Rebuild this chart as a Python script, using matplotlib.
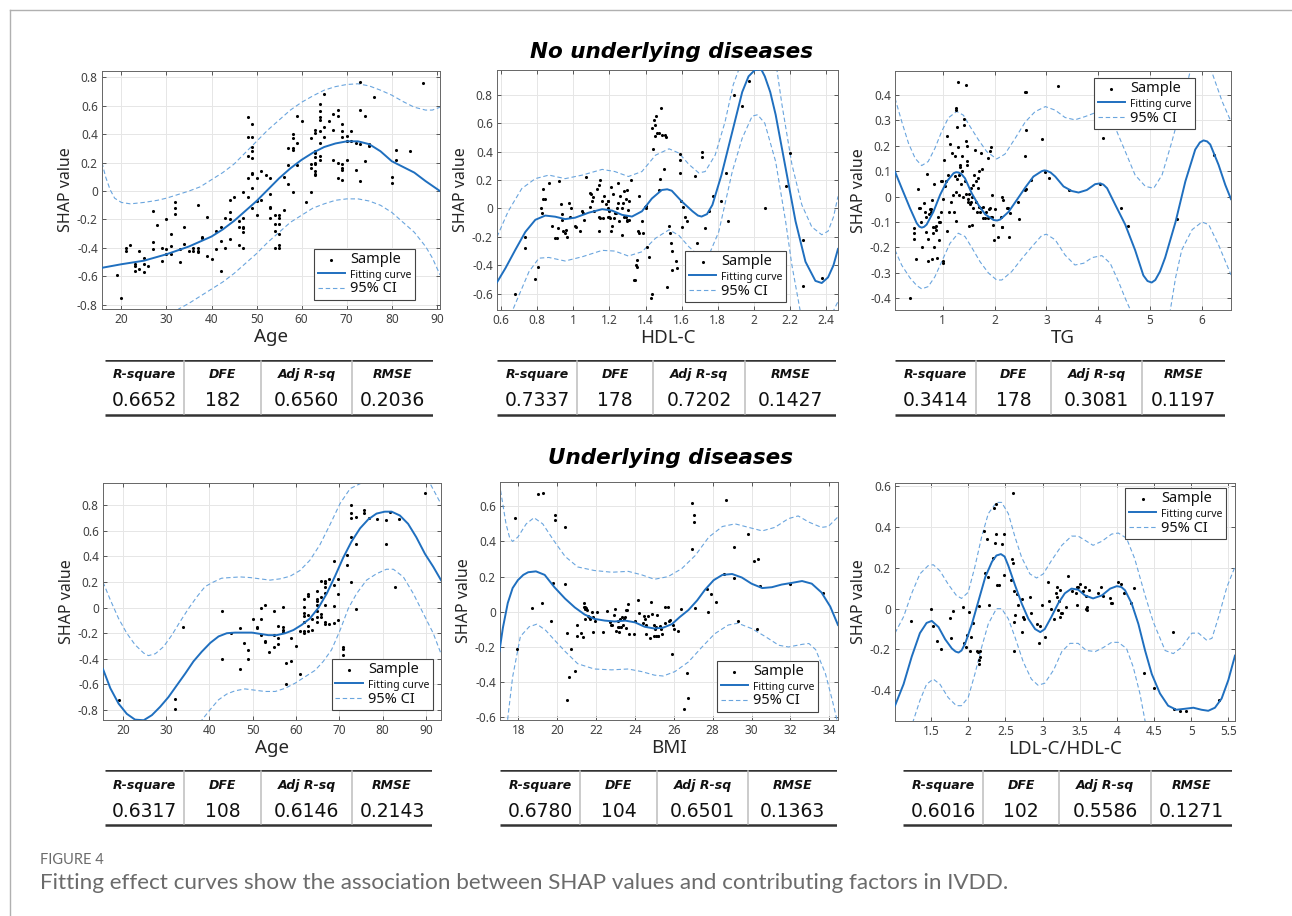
import matplotlib
matplotlib.use('Agg')
import matplotlib.pyplot as plt
from matplotlib.lines import Line2D
from matplotlib.ticker import FuncFormatter

plt.rcParams['axes.unicode_minus'] = False
plt.rcParams['font.family'] = 'DejaVu Sans'

# ---------------- data ----------------
# No underlying diseases: Age
age1_x = [19, 20, 21, 21, 22, 23, 23, 23, 24, 24, 25, 25, 25, 26, 27, 27, 27, 28, 29, 29,
          30, 30, 30, 31, 31, 31, 32, 32, 32, 33, 33, 34, 34, 35, 36, 36, 37, 37, 37, 37,
          38, 38, 39, 39, 40, 41, 41, 42, 42, 42, 43, 43, 44, 44, 44, 44, 45, 46, 46, 46,
          47, 47, 47, 47, 47, 47, 48, 48, 48, 48, 48, 49, 49, 49, 49, 49, 49, 49, 49, 49,
          50, 50, 50, 51, 51, 52, 53, 53, 53, 53, 53, 54, 54, 54, 54, 55, 55, 55, 55, 55, 55,
          56, 56, 57, 57, 57, 58, 58, 58, 58, 58, 59, 59, 59, 60, 61, 62, 62, 62, 62,
          63, 63, 63, 63, 63, 63, 63, 63, 63, 63, 64, 64, 64, 64, 64, 64, 64, 64,
          65, 65, 65, 66, 67, 67, 67, 68, 68, 68, 68, 69, 69, 69, 69, 69, 69, 69,
          70, 70, 70, 71, 71, 72, 72, 73, 73, 73, 73, 74, 74, 75, 75, 76, 80, 80, 81, 81, 84, 87]
age1_y = [-0.59, -0.75, -0.40, -0.42, -0.38, -0.51, -0.53, -0.56, -0.42, -0.55, -0.47, -0.51, -0.57,
          -0.53, -0.14, -0.36, -0.41, -0.24, -0.40, -0.49,
          -0.20, -0.41, -0.44, -0.30, -0.39, -0.44, -0.08, -0.12, -0.16, -0.41, -0.50, -0.25, -0.37,
          -0.42, -0.40, -0.42, -0.10, -0.40, -0.42, -0.43,
          -0.33, -0.32, -0.18, -0.46, -0.48, -0.28, -0.41, -0.25, -0.35, -0.56, -0.19, -0.40,
          -0.06, -0.15, -0.20, -0.34, -0.04, -0.21, -0.25, -0.38,
          -0.01, -0.19, -0.25, -0.26, -0.29, -0.40, 0.52, 0.38, 0.25, 0.09, -0.04,
          0.47, 0.38, 0.31, 0.28, 0.23, 0.13, 0.12, 0.02, -0.12,
          0.09, -0.07, -0.17, 0.14, -0.06, 0.11, 0.09, -0.02, -0.11, -0.12, -0.19,
          -0.17, -0.23, -0.28, -0.40, -0.17, -0.19, -0.23, -0.30, -0.38, -0.40,
          0.10, -0.13, 0.30, 0.18, 0.05, 0.40, 0.37, 0.30, 0.29, -0.01, 0.53, 0.34, 0.18,
          0.49, -0.08, 0.37, 0.19, 0.16, -0.01,
          0.43, 0.41, 0.28, 0.27, 0.24, 0.20, 0.19, 0.14, 0.12, 0.11,
          0.61, 0.56, 0.52, 0.50, 0.42, 0.34, 0.25, 0.22,
          0.68, 0.45, 0.38, 0.49, 0.54, 0.43, 0.22, 0.57, 0.53, 0.20, 0.09,
          0.47, 0.42, 0.38, 0.19, 0.16, 0.15, 0.08,
          0.39, 0.35, 0.22, 0.42, 0.35, 0.34, 0.15, 0.77, 0.57, 0.33, 0.07, 0.53, 0.21,
          0.33, 0.32, 0.66, 0.10, 0.06, 0.29, 0.22, 0.28, 0.76]
age1_fit = [(15.7, -0.54), (20, -0.515), (25, -0.49), (30, -0.445), (35, -0.39), (40, -0.32),
            (42.5, -0.27), (45, -0.21), (47.5, -0.14), (50, -0.07), (52.5, 0.01), (55, 0.09),
            (57.5, 0.16), (60, 0.22), (62.5, 0.27), (65, 0.31), (67.5, 0.335), (70, 0.35),
            (72.5, 0.35), (75, 0.33), (77.5, 0.28), (80, 0.21), (82.5, 0.17), (85, 0.13),
            (87.5, 0.07), (90.7, 0.0)]
age1_up = [(15.7, 0.20), (16.5, 0.10), (17.5, 0.01), (18.5, -0.05), (20, -0.08), (22, -0.09),
           (25, -0.08), (28, -0.065), (30, -0.05), (32.5, -0.025), (35, 0.0), (37.5, 0.03),
           (40, 0.08), (42.5, 0.13), (45, 0.19), (47.5, 0.27), (50, 0.35), (52.5, 0.43),
           (55, 0.50), (57.5, 0.57), (60, 0.625), (62.5, 0.67), (65, 0.71), (67.5, 0.735),
           (70, 0.75), (72.5, 0.755), (75, 0.74), (77.5, 0.71), (80, 0.675), (82.5, 0.63),
           (85, 0.59), (87.5, 0.57), (89, 0.57), (90.7, 0.59)]
age1_lo = [(31.5, -0.88), (32.7, -0.83), (35, -0.79), (37.5, -0.74), (40, -0.69), (42.5, -0.64),
           (45, -0.58), (47.5, -0.51), (50, -0.44), (52.5, -0.36), (55, -0.29), (57.5, -0.22),
           (60, -0.17), (62.5, -0.12), (65, -0.09), (67.5, -0.065), (70, -0.055), (72.5, -0.055),
           (75, -0.07), (77.5, -0.10), (80, -0.15), (82.5, -0.22), (85, -0.29), (87.5, -0.39),
           (89, -0.47), (90.7, -0.59)]

# No underlying diseases: HDL-C
hdl_pts = [(0.68, -0.60), (0.735, -0.20), (0.735, -0.28), (0.79, -0.50), (0.805, -0.41), (0.82, 0.0),
           (0.825, -0.03), (0.83, 0.07), (0.835, 0.14), (0.845, 0.07), (0.865, 0.18), (0.885, -0.12),
           (0.9, -0.21), (0.91, -0.21), (0.915, -0.14), (0.92, 0.19), (0.93, 0.03), (0.94, -0.04),
           (0.94, -0.08), (0.945, -0.16), (0.955, -0.17), (0.96, -0.15), (0.965, -0.20), (0.975, 0.04),
           (0.98, -0.06), (0.985, 0.0), (1.01, -0.12), (1.015, -0.13), (1.04, -0.16), (1.05, -0.02),
           (1.055, -0.03), (1.06, -0.08), (1.07, 0.22), (1.09, 0.01), (1.095, 0.11), (1.1, 0.10),
           (1.105, 0.05), (1.11, 0.08), (1.115, -0.02), (1.13, 0.135), (1.14, 0.165), (1.145, -0.16),
           (1.145, -0.06), (1.148, -0.065), (1.15, 0.20), (1.16, 0.05), (1.165, -0.07), (1.17, 0.09),
           (1.18, 0.03), (1.19, -0.06), (1.19, 0.05), (1.195, 0.05), (1.195, 0.0), (1.2, -0.02),
           (1.2, -0.06), (1.205, -0.07), (1.21, 0.15), (1.21, -0.16), (1.215, -0.12), (1.22, 0.10),
           (1.225, -0.07), (1.23, -0.03), (1.235, -0.03), (1.24, 0.0), (1.245, 0.04), (1.25, 0.18),
           (1.255, -0.09), (1.26, 0.09), (1.27, -0.19), (1.27, 0.0), (1.275, 0.04), (1.28, -0.06),
           (1.28, 0.12), (1.29, -0.06), (1.29, 0.07), (1.295, -0.08), (1.3, 0.13), (1.3, -0.09),
           (1.305, -0.01), (1.31, 0.05), (1.31, -0.08), (1.32, 0.20), (1.335, -0.505), (1.34, -0.505),
           (1.345, -0.40), (1.35, -0.41), (1.355, -0.36), (1.36, -0.16), (1.365, -0.17), (1.365, 0.09),
           (1.38, -0.09), (1.385, -0.175), (1.395, 0.01), (1.4, 0.0), (1.405, 0.015), (1.41, -0.27),
           (1.42, -0.34), (1.43, -0.63), (1.435, -0.60), (1.435, 0.565), (1.44, 0.42), (1.445, 0.62),
           (1.45, 0.51), (1.455, 0.59), (1.46, 0.65), (1.465, 0.53), (1.475, 0.53), (1.475, 0.13),
           (1.478, 0.21), (1.485, 0.705), (1.49, 0.52), (1.5, 0.28), (1.51, 0.52), (1.515, 0.50),
           (1.52, -0.55), (1.53, -0.12), (1.535, -0.17), (1.54, -0.24), (1.545, -0.30), (1.548, -0.43),
           (1.57, -0.37), (1.575, -0.42), (1.59, 0.38), (1.59, 0.34), (1.59, 0.25), (1.595, 0.05),
           (1.6, -0.13), (1.61, 0.01), (1.62, -0.06), (1.63, -0.09), (1.675, 0.23), (1.685, -0.24),
           (1.715, 0.40), (1.715, 0.36), (1.73, -0.14), (1.75, -0.02), (1.775, 0.09), (1.82, 0.05),
           (1.845, 0.25), (1.855, -0.085), (1.89, 0.80), (1.935, 0.72), (1.97, 0.895), (2.06, 0.005),
           (2.18, 0.155), (2.2, 0.39), (2.27, -0.225), (2.27, -0.545), (2.375, -0.49)]
hdl_fit = [(0.578, -0.52), (0.625, -0.42), (0.68, -0.29), (0.735, -0.165), (0.79, -0.08), (0.845, -0.05),
           (0.9, -0.058), (0.955, -0.075), (1.01, -0.065), (1.085, -0.03), (1.16, -0.005), (1.215, -0.015),
           (1.27, -0.045), (1.325, -0.057), (1.38, -0.02), (1.435, 0.07), (1.49, 0.13), (1.52, 0.135),
           (1.545, 0.125), (1.6, 0.05), (1.66, -0.02), (1.69, -0.05), (1.71, -0.057), (1.74, -0.04),
           (1.77, 0.025), (1.82, 0.235), (1.88, 0.54), (1.935, 0.82), (1.97, 0.93), (2.005, 0.975),
           (2.04, 0.98), (2.06, 0.93), (2.09, 0.82), (2.12, 0.66), (2.175, 0.285), (2.23, -0.09),
           (2.285, -0.375), (2.34, -0.51), (2.375, -0.525), (2.41, -0.485), (2.44, -0.40), (2.465, -0.285)]
hdl_up = [(0.578, -0.20), (0.64, -0.02), (0.715, 0.14), (0.79, 0.21), (0.865, 0.235), (0.955, 0.21),
          (1.05, 0.235), (1.16, 0.275), (1.23, 0.26), (1.305, 0.225), (1.38, 0.26), (1.455, 0.375),
          (1.53, 0.42), (1.585, 0.39), (1.64, 0.31), (1.695, 0.25), (1.73, 0.26), (1.785, 0.375),
          (1.84, 0.61), (1.885, 0.87), (1.915, 0.975), (1.95, 1.08), (2.0, 1.22), (2.04, 1.27),
          (2.08, 1.2), (2.127, 0.975), (2.155, 0.73), (2.21, 0.31), (2.265, 0.025), (2.32, -0.13),
          (2.375, -0.185), (2.41, -0.16), (2.44, -0.06), (2.465, 0.085)]
hdl_lo = [(0.64, -0.80), (0.665, -0.715), (0.70, -0.61), (0.755, -0.445), (0.81, -0.35), (0.865, -0.345),
          (0.955, -0.37), (1.05, -0.34), (1.16, -0.295), (1.23, -0.30), (1.305, -0.335), (1.38, -0.305),
          (1.455, -0.21), (1.53, -0.15), (1.585, -0.19), (1.64, -0.27), (1.71, -0.35), (1.75, -0.33),
          (1.805, -0.165), (1.88, 0.26), (1.935, 0.495), (1.99, 0.65), (2.02, 0.66), (2.06, 0.60),
          (2.12, 0.33), (2.175, -0.09), (2.21, -0.40), (2.255, -0.715), (2.3, -0.83), (2.375, -0.865),
          (2.42, -0.78), (2.44, -0.72), (2.465, -0.655)]

# No underlying diseases: TG
tg_pts = [(0.37, -0.40), (0.44, -0.125), (0.44, -0.145), (0.45, -0.165), (0.48, -0.245), (0.52, 0.03),
          (0.55, -0.045), (0.56, -0.045), (0.59, -0.10), (0.61, -0.20), (0.64, -0.025), (0.65, -0.06),
          (0.67, -0.08), (0.68, -0.14), (0.70, 0.09), (0.71, -0.255), (0.72, -0.165), (0.73, -0.07),
          (0.75, -0.05), (0.77, -0.06), (0.78, -0.05), (0.80, -0.015), (0.80, -0.245), (0.82, -0.12),
          (0.82, -0.145), (0.83, -0.20), (0.84, 0.05), (0.85, -0.12), (0.87, -0.115), (0.88, -0.13),
          (0.89, -0.24), (0.91, -0.08), (0.92, -0.10), (0.93, -0.17), (0.95, -0.10), (0.96, -0.06),
          (0.97, 0.06), (0.98, 0.06), (1.0, -0.255), (1.01, -0.26), (1.01, -0.01), (1.03, 0.145),
          (1.05, 0.04), (1.06, 0.06), (1.08, 0.24), (1.08, -0.135), (1.11, 0.085), (1.12, -0.06),
          (1.15, 0.205), (1.16, -0.02), (1.18, 0.17), (1.19, 0.005), (1.21, -0.06), (1.23, 0.08),
          (1.24, 0.16), (1.25, -0.095), (1.26, 0.02), (1.27, 0.07), (1.28, 0.275), (1.30, 0.195),
          (1.31, 0.005), (1.32, 0.085), (1.33, 0.125), (1.34, 0.115), (1.35, 0.05), (1.25, 0.35),
          (1.26, 0.34), (1.30, 0.452), (1.37, 0.16), (1.38, 0.10), (1.40, 0.0), (1.41, 0.305),
          (1.42, 0.28), (1.43, 0.06), (1.44, 0.01), (1.45, 0.44), (1.45, 0.22), (1.46, 0.20),
          (1.46, 0.125), (1.47, 0.14), (1.48, -0.02), (1.49, -0.01), (1.50, -0.115), (1.51, 0.01),
          (1.52, -0.03), (1.54, 0.035), (1.55, -0.02), (1.56, -0.11), (1.57, 0.0), (1.59, -0.045),
          (1.59, 0.045), (1.61, 0.085), (1.62, 0.185), (1.64, 0.06), (1.65, -0.02), (1.66, -0.06),
          (1.68, 0.035), (1.69, 0.075), (1.70, 0.10), (1.70, -0.04), (1.71, -0.06), (1.73, 0.17),
          (1.74, -0.045), (1.75, 0.11), (1.77, -0.085), (1.78, -0.04), (1.82, -0.085), (1.84, -0.06),
          (1.87, -0.085), (1.88, 0.15), (1.90, -0.05), (1.91, -0.045), (1.92, 0.18), (1.93, 0.195),
          (1.94, -0.08), (1.96, 0.005), (1.96, -0.08), (1.97, -0.11), (1.99, -0.17), (2.01, -0.05),
          (2.07, -0.16), (2.12, -0.08), (2.14, -0.12), (2.14, -0.12), (2.15, 0.0), (2.16, -0.015),
          (2.24, -0.045), (2.25, -0.045), (2.27, -0.16), (2.29, -0.065), (2.45, -0.02), (2.48, -0.09),
          (2.59, 0.025), (2.60, 0.03), (2.59, 0.16), (2.60, 0.26), (2.59, 0.41), (2.60, 0.412),
          (2.70, 0.065), (2.91, 0.225), (2.97, 0.095), (3.05, 0.075), (3.23, 0.435), (3.44, 0.025),
          (4.04, 0.05), (4.10, 0.23), (4.44, -0.045), (4.58, -0.115), (5.51, -0.09), (6.24, 0.165)]
tg_fit = [(0.08, 0.098), (0.21, 0.033), (0.37, -0.046), (0.50, -0.105), (0.55, -0.118), (0.595, -0.122),
          (0.64, -0.119), (0.69, -0.11), (0.82, -0.06), (0.95, 0.007), (1.08, 0.06), (1.21, 0.092),
          (1.26, 0.096), (1.30, 0.095), (1.36, 0.089), (1.43, 0.072), (1.56, 0.013), (1.69, -0.033),
          (1.82, -0.07), (1.98, -0.092), (2.05, -0.094), (2.11, -0.09), (2.27, -0.06), (2.43, -0.013),
          (2.59, 0.035), (2.75, 0.079), (2.91, 0.10), (2.96, 0.103), (3.0, 0.102), (3.08, 0.095),
          (3.17, 0.079), (3.33, 0.04), (3.49, 0.022), (3.62, 0.016), (3.78, 0.026), (3.94, 0.049),
          (4.04, 0.052), (4.1, 0.047), (4.17, 0.033), (4.33, -0.033), (4.52, -0.11), (4.71, -0.21),
          (4.87, -0.31), (4.95, -0.332), (5.03, -0.338), (5.10, -0.328), (5.19, -0.295), (5.29, -0.24),
          (5.49, -0.10), (5.68, 0.06), (5.87, 0.185), (5.96, 0.213), (6.03, 0.221), (6.1, 0.217),
          (6.16, 0.205), (6.32, 0.125), (6.45, 0.046), (6.56, -0.01)]
tg_up = [(0.08, 0.387), (0.21, 0.295), (0.34, 0.21), (0.47, 0.15), (0.595, 0.122), (0.72, 0.138),
         (0.85, 0.19), (0.98, 0.256), (1.11, 0.31), (1.27, 0.335), (1.40, 0.32), (1.53, 0.275),
         (1.69, 0.223), (1.85, 0.177), (2.04, 0.148), (2.20, 0.167), (2.40, 0.23), (2.59, 0.293),
         (2.78, 0.334), (2.98, 0.354), (3.17, 0.34), (3.36, 0.311), (3.55, 0.302), (3.75, 0.315),
         (3.97, 0.332), (4.13, 0.321), (4.33, 0.27), (4.52, 0.178), (4.71, 0.085), (4.91, 0.04),
         (5.07, 0.033), (5.23, 0.085), (5.42, 0.216), (5.61, 0.36), (5.77, 0.49), (5.9, 0.53),
         (6.03, 0.54), (6.19, 0.49), (6.39, 0.374), (6.56, 0.295)]
tg_lo = [(0.08, -0.21), (0.21, -0.27), (0.37, -0.32), (0.50, -0.35), (0.595, -0.363), (0.72, -0.354),
         (0.85, -0.315), (0.98, -0.256), (1.14, -0.184), (1.30, -0.144), (1.43, -0.157), (1.56, -0.20),
         (1.72, -0.256), (1.88, -0.30), (2.04, -0.328), (2.14, -0.328), (2.33, -0.295), (2.53, -0.243),
         (2.72, -0.197), (2.91, -0.153), (3.0, -0.148), (3.17, -0.17), (3.36, -0.23), (3.55, -0.269),
         (3.72, -0.262), (3.88, -0.24), (4.07, -0.232), (4.23, -0.262), (4.39, -0.334), (4.52, -0.40),
         (4.62, -0.446), (4.8, -0.6), (5.0, -0.71), (5.2, -0.66), (5.39, -0.446), (5.49, -0.32),
         (5.61, -0.21), (5.81, -0.13), (6.0, -0.10), (6.13, -0.11), (6.32, -0.19), (6.56, -0.308)]

# Underlying diseases: Age
age2_pts = [(19.0, -0.72), (32.1, -0.71), (32.1, -0.795), (34.0, -0.15), (43.0, -0.03), (43.0, -0.40),
            (44.9, -0.195), (47.1, -0.48), (47.1, -0.16), (48.0, -0.275), (49.0, -0.33), (49.0, -0.40),
            (50.0, -0.09), (50.9, -0.15), (50.9, -0.16), (51.9, 0.0), (51.9, -0.09), (51.9, -0.215),
            (52.8, 0.02), (52.8, -0.26), (52.8, -0.27), (53.8, -0.345), (54.8, -0.03), (54.8, -0.21),
            (54.8, -0.31), (55.9, -0.14), (55.9, -0.235), (55.9, -0.285), (56.9, 0.005), (56.9, -0.155),
            (56.9, -0.175), (56.9, -0.19), (57.8, -0.43), (58.8, -0.42), (58.8, -0.235), (57.8, -0.60),
            (59.9, -0.30), (60.9, -0.18), (60.9, -0.52), (61.9, 0.07), (61.9, 0.005), (61.9, -0.045),
            (61.9, -0.065), (61.9, -0.11), (61.9, -0.185), (61.9, -0.195), (62.8, 0.11), (62.8, 0.09),
            (62.8, -0.06), (62.8, -0.14), (62.8, -0.185), (63.8, -0.09), (63.8, -0.175), (64.8, 0.13),
            (64.8, 0.07), (64.8, 0.055), (64.8, 0.02), (64.8, -0.03), (64.8, -0.11), (64.8, -0.07),
            (65.8, 0.21), (65.8, 0.08), (65.8, -0.05), (65.8, -0.075), (66.7, 0.21), (66.7, 0.19),
            (66.7, 0.165), (66.7, 0.115), (66.7, 0.02), (66.7, -0.115), (66.7, -0.125), (67.7, 0.225),
            (67.7, -0.125), (68.8, 0.365), (68.8, 0.175), (68.8, 0.01), (68.8, -0.12), (69.8, 0.22),
            (69.8, 0.11), (69.8, -0.10), (70.9, -0.305), (70.9, -0.325), (70.9, -0.37), (70.9, -0.435),
            (71.8, 0.41), (71.8, 0.33), (72.8, 0.805), (72.8, 0.74), (72.8, 0.70), (72.8, 0.55),
            (72.8, 0.20), (73.8, 0.71), (73.8, 0.50), (73.8, -0.01), (75.8, 0.76), (75.8, 0.74),
            (76.9, 0.70), (78.8, 0.69), (80.7, 0.685), (80.7, 0.495), (81.8, 0.75), (82.8, 0.16),
            (83.8, 0.69), (89.9, 0.895)]
age2_fit = [(15.4, -0.48), (17.1, -0.63), (19.0, -0.75), (20.9, -0.83), (22.8, -0.875), (24.8, -0.88),
            (26.7, -0.84), (28.6, -0.775), (30.5, -0.70), (32.5, -0.605), (34.4, -0.515), (36.3, -0.42),
            (38.2, -0.345), (40.2, -0.275), (42.1, -0.225), (44.0, -0.20), (45.9, -0.195), (47.8, -0.195),
            (49.8, -0.195), (51.7, -0.205), (53.6, -0.215), (55.5, -0.215), (57.5, -0.20), (59.4, -0.175),
            (61.3, -0.135), (63.2, -0.085), (65.2, 0.0), (67.1, 0.11), (69.0, 0.245), (70.9, 0.39),
            (72.8, 0.515), (74.8, 0.62), (76.7, 0.69), (78.6, 0.735), (80.5, 0.75), (82.1, 0.75),
            (84.0, 0.72), (85.9, 0.655), (87.8, 0.55), (89.8, 0.42), (91.7, 0.32), (93.5, 0.215)]
age2_up = [(15.4, 0.20), (17.1, 0.06), (19.0, -0.085), (20.9, -0.20), (22.8, -0.29), (24.8, -0.355),
           (25.9, -0.375), (27.5, -0.36), (29.4, -0.305), (31.3, -0.215), (33.2, -0.11), (35.2, -0.005),
           (37.1, 0.085), (39.0, 0.165), (40.9, 0.20), (42.8, 0.23), (44.8, 0.235), (47.1, 0.24),
           (49.4, 0.235), (51.7, 0.225), (54.0, 0.215), (56.3, 0.225), (58.6, 0.245), (60.9, 0.29),
           (63.2, 0.37), (65.5, 0.49), (67.8, 0.645), (70.2, 0.815), (72.5, 0.93), (75.2, 0.975),
           (78, 1.07), (81, 1.17), (84, 1.16), (87, 1.1), (89.5, 1.02), (90.9, 0.975), (93.5, 0.81)]
age2_lo = [(37.0, -0.95), (38.2, -0.88), (40.2, -0.795), (42.1, -0.72), (44.0, -0.675), (45.9, -0.65),
           (48.2, -0.635), (50.5, -0.645), (52.8, -0.655), (55.2, -0.655), (57.5, -0.63), (59.8, -0.59),
           (62.1, -0.54), (64.4, -0.49), (66.3, -0.42), (68.2, -0.33), (70.2, -0.175), (72.1, -0.005),
           (74.0, 0.11), (76.3, 0.215), (78.6, 0.265), (80.9, 0.30), (82.5, 0.30), (84.8, 0.24),
           (87.1, 0.11), (89.4, -0.045), (91.7, -0.20), (93.5, -0.36)]

# Underlying diseases: BMI
bmi_pts = [(17.8, 0.535), (17.9, -0.21), (18.7, 0.02), (19.0, 0.67), (19.25, 0.675), (19.2, 0.05),
           (19.7, -0.055), (19.8, 0.165), (19.9, 0.55), (19.9, 0.52), (20.4, 0.48), (20.4, 0.16),
           (20.5, -0.50), (20.5, -0.12), (20.6, -0.37), (20.7, -0.21), (20.9, -0.335), (21.0, -0.075),
           (21.0, -0.14), (21.2, -0.12), (21.3, -0.145), (21.35, 0.05), (21.38, 0.025), (21.4, 0.015),
           (21.42, -0.04), (21.45, 0.03), (21.5, 0.02), (21.55, 0.01), (21.6, -0.025), (21.62, -0.03),
           (21.68, -0.04), (21.8, 0.0), (21.82, -0.115), (21.85, -0.03), (21.95, -0.055), (22.05, 0.0),
           (22.35, -0.115), (22.55, 0.005), (22.7, -0.06), (22.75, -0.075), (22.8, -0.075), (22.9, -0.02),
           (22.95, 0.015), (23.0, -0.11), (23.1, -0.055), (23.13, -0.085), (23.17, -0.085), (23.2, -0.115),
           (23.25, -0.04), (23.3, -0.085), (23.33, -0.03), (23.4, -0.075), (23.45, -0.04), (23.48, -0.03),
           (23.52, -0.09), (23.55, 0.01), (23.6, 0.01), (23.63, 0.045), (23.67, -0.125), (23.95, -0.125),
           (23.98, -0.055), (24.15, 0.07), (24.18, -0.005), (24.43, -0.065), (24.48, -0.025), (24.52, -0.04),
           (24.55, -0.125), (24.58, -0.075), (24.65, -0.025), (24.75, -0.15), (24.82, 0.055), (24.85, -0.015),
           (24.97, -0.075), (25.0, -0.14), (25.03, -0.10), (25.07, -0.135), (25.1, -0.085), (25.13, -0.02),
           (25.17, -0.14), (25.2, -0.135), (25.28, -0.08), (25.32, -0.095), (25.4, -0.125), (25.52, -0.065),
           (25.55, 0.03), (25.7, 0.025), (25.75, -0.05), (25.82, -0.045), (25.9, -0.24), (25.98, -0.075),
           (26.03, -0.10), (26.2, -0.11), (26.35, 0.015), (26.5, -0.555), (26.7, -0.35), (26.73, -0.49),
           (26.95, 0.62), (26.95, 0.355), (27.05, 0.55), (27.05, 0.51), (27.1, 0.02), (27.7, 0.13),
           (27.75, 0.0), (27.9, 0.10), (28.15, 0.055), (28.6, 0.215), (28.7, 0.635), (29.1, 0.37),
           (29.1, 0.19), (29.3, -0.055), (29.8, 0.44), (30.15, 0.29), (30.3, -0.10), (30.35, 0.30),
           (30.45, 0.145), (32.0, 0.16), (33.7, 0.105)]
bmi_fit = [(17.02, -0.225), (17.2, -0.09), (17.45, 0.05), (17.7, 0.135), (17.97, 0.18), (18.25, 0.21),
           (18.5, 0.225), (18.9, 0.23), (19.35, 0.21), (19.85, 0.14), (20.4, 0.075), (20.9, 0.025),
           (21.4, -0.015), (21.9, -0.04), (22.45, -0.05), (22.95, -0.055), (23.5, -0.05), (24.0, -0.06),
           (24.5, -0.085), (25.0, -0.095), (25.45, -0.09), (25.9, -0.07), (26.3, -0.03), (26.75, 0.01),
           (27.2, 0.065), (27.6, 0.125), (28.05, 0.18), (28.5, 0.21), (29.0, 0.215), (29.5, 0.195),
           (30.0, 0.16), (30.55, 0.135), (31.05, 0.14), (31.55, 0.155), (32.1, 0.165), (32.6, 0.175),
           (33.1, 0.16), (33.6, 0.11), (34.05, 0.03), (34.45, -0.075)]
bmi_up = [(17.02, 0.73), (17.36, 0.50), (17.55, 0.42), (17.7, 0.40), (17.97, 0.425), (18.4, 0.50),
          (18.8, 0.535), (19.25, 0.50), (19.85, 0.40), (20.4, 0.315), (21.05, 0.255), (21.9, 0.235),
          (22.8, 0.225), (23.65, 0.23), (24.35, 0.21), (25.0, 0.185), (25.7, 0.20), (26.4, 0.245),
          (27.1, 0.32), (27.8, 0.425), (28.5, 0.485), (29.15, 0.50), (29.85, 0.48), (30.55, 0.46),
          (31.2, 0.48), (31.9, 0.53), (32.4, 0.545), (32.95, 0.51), (33.6, 0.48), (33.95, 0.485),
          (34.45, 0.54)]
bmi_lo = [(17.25, -0.9), (17.45, -0.605), (17.7, -0.37), (18.1, -0.14), (18.55, -0.085), (18.95, -0.07),
          (19.4, -0.105), (19.85, -0.16), (20.4, -0.225), (21.05, -0.295), (21.9, -0.325), (22.8, -0.33),
          (23.65, -0.325), (24.35, -0.34), (25.0, -0.36), (25.45, -0.365), (26.05, -0.34), (26.75, -0.285),
          (27.45, -0.20), (28.1, -0.125), (28.8, -0.075), (29.3, -0.065), (30.0, -0.095), (30.7, -0.14),
          (31.4, -0.19), (31.9, -0.20), (32.6, -0.185), (32.95, -0.18), (33.3, -0.215), (33.8, -0.35),
          (34.15, -0.50), (34.4, -0.615), (34.45, -0.69)]

# Underlying diseases: LDL-C/HDL-C
ratio_pts = [(1.23, -0.06), (1.5, 0.0), (1.52, -0.085), (1.58, -0.16), (1.64, -0.20), (1.75, -0.045),
             (1.77, -0.145), (1.79, -0.01), (1.93, 0.01), (1.95, -0.17), (1.97, -0.19), (1.99, -0.13),
             (2.01, -0.015), (2.03, -0.205), (2.04, -0.14), (2.06, -0.07), (2.12, -0.205), (2.13, -0.21),
             (2.14, 0.015), (2.14, -0.27), (2.15, -0.25), (2.155, -0.235), (2.16, -0.205), (2.21, 0.38),
             (2.22, 0.175), (2.25, 0.34), (2.26, 0.155), (2.28, 0.02), (2.34, 0.25), (2.35, 0.495),
             (2.37, 0.51), (2.36, 0.32), (2.38, 0.365), (2.39, 0.115), (2.41, 0.115), (2.45, 0.315),
             (2.48, 0.365), (2.48, 0.165), (2.6, 0.565), (2.58, 0.14), (2.59, 0.245), (2.6, 0.225),
             (2.61, 0.085), (2.61, -0.065), (2.62, -0.205), (2.63, -0.03), (2.66, 0.07), (2.67, 0.02),
             (2.72, 0.045), (2.73, -0.115), (2.74, -0.04), (2.75, -0.05), (2.83, 0.055), (2.84, -0.02),
             (2.92, -0.075), (2.95, -0.17), (2.97, -0.085), (2.99, 0.02), (3.03, -0.14), (3.08, 0.13),
             (3.09, 0.035), (3.11, 0.0), (3.16, -0.05), (3.18, 0.075), (3.19, 0.055), (3.2, 0.105),
             (3.21, -0.005), (3.22, 0.035), (3.23, -0.04), (3.24, 0.09), (3.25, -0.02), (3.26, -0.02),
             (3.32, 0.01), (3.34, 0.16), (3.39, 0.085), (3.45, 0.075), (3.46, 0.105), (3.47, 0.02),
             (3.48, 0.105), (3.51, 0.12), (3.55, 0.085), (3.57, 0.105), (3.58, 0.06), (3.59, 0.0),
             (3.6, -0.005), (3.605, 0.01), (3.62, 0.09), (3.75, 0.075), (3.79, 0.105), (3.82, 0.06),
             (3.91, 0.05), (3.92, 0.03), (3.93, 0.03), (4.01, 0.13), (4.05, 0.12), (4.09, 0.075),
             (4.19, 0.03), (4.23, 0.10), (4.37, -0.315), (4.5, -0.39), (4.76, -0.115), (4.77, -0.49),
             (4.85, -0.50), (4.93, -0.50), (5.38, -0.445)]
ratio_fit = [(1.015, -0.475), (1.13, -0.37), (1.24, -0.235), (1.35, -0.12), (1.44, -0.07), (1.51, -0.06),
             (1.60, -0.09), (1.69, -0.15), (1.78, -0.195), (1.83, -0.21), (1.87, -0.215), (1.91, -0.205),
             (1.96, -0.17), (2.05, -0.075), (2.14, 0.04), (2.23, 0.155), (2.32, 0.23), (2.38, 0.26),
             (2.44, 0.267), (2.49, 0.255), (2.54, 0.21), (2.63, 0.115), (2.72, 0.025), (2.81, -0.05),
             (2.90, -0.10), (2.97, -0.115), (3.03, -0.10), (3.12, -0.04), (3.21, 0.025), (3.30, 0.075),
             (3.39, 0.098), (3.48, 0.093), (3.57, 0.065), (3.68, 0.05), (3.80, 0.065), (3.91, 0.098),
             (4.0, 0.11), (4.06, 0.106), (4.11, 0.09), (4.20, 0.025), (4.29, -0.075), (4.38, -0.205),
             (4.47, -0.32), (4.58, -0.415), (4.69, -0.475), (4.80, -0.495), (4.92, -0.49), (5.03, -0.485),
             (5.14, -0.495), (5.23, -0.50), (5.32, -0.485), (5.41, -0.44), (5.50, -0.35), (5.59, -0.23)]
ratio_up = [(1.015, -0.12), (1.13, -0.04), (1.24, 0.075), (1.35, 0.17), (1.46, 0.21), (1.53, 0.215),
            (1.62, 0.185), (1.73, 0.12), (1.84, 0.065), (1.91, 0.05), (2.0, 0.08), (2.09, 0.205),
            (2.18, 0.35), (2.27, 0.465), (2.38, 0.52), (2.45, 0.52), (2.54, 0.465), (2.63, 0.35),
            (2.72, 0.25), (2.83, 0.17), (2.92, 0.15), (3.01, 0.17), (3.12, 0.235), (3.26, 0.31),
            (3.39, 0.355), (3.48, 0.355), (3.57, 0.335), (3.68, 0.31), (3.80, 0.33), (3.93, 0.365),
            (4.02, 0.37), (4.13, 0.345), (4.24, 0.245), (4.38, 0.065), (4.49, -0.065), (4.65, -0.205),
            (4.76, -0.22), (4.87, -0.19), (5.01, -0.12), (5.10, -0.12), (5.21, -0.155), (5.28, -0.145),
            (5.37, -0.04), (5.48, 0.105), (5.59, 0.205)]
ratio_lo = [(1.015, -0.83), (1.13, -0.70), (1.26, -0.55), (1.35, -0.45), (1.44, -0.37), (1.53, -0.345),
            (1.62, -0.37), (1.73, -0.435), (1.84, -0.475), (1.91, -0.475), (2.0, -0.435), (2.09, -0.32),
            (2.18, -0.19), (2.27, -0.075), (2.38, 0.0), (2.45, 0.0), (2.54, -0.05), (2.63, -0.14),
            (2.74, -0.26), (2.85, -0.345), (2.94, -0.375), (3.03, -0.365), (3.15, -0.30), (3.26, -0.21),
            (3.37, -0.17), (3.48, -0.17), (3.59, -0.205), (3.71, -0.21), (3.82, -0.19), (3.93, -0.165),
            (4.02, -0.165), (4.13, -0.195), (4.22, -0.285), (4.31, -0.415), (4.38, -0.55), (4.45, -0.68),
            (4.6, -0.8), (4.8, -0.83), (5.0, -0.85), (5.3, -0.85), (5.59, -0.66)]

stat_headers = ['R-square', 'DFE', 'Adj R-sq', 'RMSE']
age1_stats = ['0.6652', '182', '0.6560', '0.2036']
hdl_stats = ['0.7337', '178', '0.7202', '0.1427']
tg_stats = ['0.3414', '178', '0.3081', '0.1197']
age2_stats = ['0.6317', '108', '0.6146', '0.2143']
bmi_stats = ['0.6780', '104', '0.6501', '0.1363']
ratio_stats = ['0.6016', '102', '0.5586', '0.1271']

# ---------------- drawing ----------------
W, H = 1292, 916
FIT_C = '#1f6fbf'
CI_C = '#6aa5de'
AX_FONT = 'Noto Sans'


def px_box(x0, y0, x1, y1):
    return [x0 / W, 1 - y1 / H, (x1 - x0) / W, (y1 - y0) / H]


def fmt(v, pos):
    return '%g' % round(v, 4)


def panel(fig, rect, pts_x, pts_y, fit, up, lo, xlim, ylim, xticks, yticks, xlabel, loc, anchor):
    ax = fig.add_axes(px_box(*rect))
    ax.grid(True, color='#e6e6e6', lw=0.7)
    ax.set_axisbelow(True)
    ax.scatter(pts_x, pts_y, s=5, c='black', linewidths=0, zorder=3, label='Sample')
    ax.plot([p[0] for p in fit], [p[1] for p in fit], color=FIT_C, lw=1.4, zorder=4,
            label='Fitting curve')
    ax.plot([p[0] for p in up], [p[1] for p in up], color=CI_C, lw=0.8, dashes=(4, 2.5),
            zorder=2, label='95% CI')
    ax.plot([p[0] for p in lo], [p[1] for p in lo], color=CI_C, lw=0.8, dashes=(4, 2.5), zorder=2)
    ax.set_xlim(*xlim)
    ax.set_ylim(*ylim)
    ax.set_xticks(xticks)
    ax.set_yticks(yticks)
    ax.xaxis.set_major_formatter(FuncFormatter(fmt))
    ax.yaxis.set_major_formatter(FuncFormatter(fmt))
    ax.tick_params(direction='in', length=3, width=0.6, colors='#404040', labelsize=8.5,
                   top=True, right=True, pad=3)
    for lab in ax.get_xticklabels() + ax.get_yticklabels():
        lab.set_family(AX_FONT)
    for s in ax.spines.values():
        s.set_color('#666666')
        s.set_linewidth(0.7)
    ax.set_xlabel(xlabel, family=AX_FONT, fontsize=13.5, color='#262626', labelpad=1)
    ax.set_ylabel('SHAP value', family=AX_FONT, fontsize=11.5, color='#262626', labelpad=2)
    leg = ax.legend(loc=loc, bbox_to_anchor=anchor, fancybox=False, framealpha=1,
                    edgecolor='#444444', borderpad=0.25, labelspacing=0.05, handlelength=2.0,
                    handletextpad=0.35, borderaxespad=0, markerscale=1.0)
    leg.get_frame().set_linewidth(0.8)
    sizes = [10.5, 7.5, 10.5]
    for t, fs in zip(leg.get_texts(), sizes):
        t.set_family(AX_FONT)
        t.set_fontsize(fs)
        t.set_color('#111111')
    return ax


def stats_table(fig, x0, y0, x1, y1, seps, values):
    ax = fig.add_axes(px_box(x0, y0, x1, y1 + 2))
    ax.set_xlim(x0, x1)
    ax.set_ylim(y1 + 2, y0)
    ax.axis('off')
    ax.plot([x0, x1], [y0, y0], color='#333333', lw=1.8, solid_capstyle='butt')
    ax.plot([x0, x1], [y1, y1], color='#333333', lw=1.8, solid_capstyle='butt')
    for s in seps:
        ax.plot([s, s], [y0 + 1, y1 - 1], color='#bdbdbd', lw=1.1)
    edges = [x0] + list(seps) + [x1]
    for i in range(4):
        cx = (edges[i] + edges[i + 1]) / 2
        ax.text(cx, y0 + 15, stat_headers[i], ha='center', va='center', fontsize=9,
                fontweight='bold', style='italic', color='#111111')
        ax.text(cx, y0 + 41, values[i], ha='center', va='center', fontsize=13.5, color='#111111')


fig = plt.figure(figsize=(W / 100, H / 100), dpi=100)

# frame lines
fig.add_artist(Line2D([10 / W, 1], [1 - 10 / H, 1 - 10 / H], color='#b0b0b0', lw=1.0))
fig.add_artist(Line2D([10 / W, 10 / W], [0, 1 - 10 / H], color='#b0b0b0', lw=1.0))

fig.text(671 / W, 1 - 52 / H, 'No underlying diseases', ha='center', va='center', fontsize=15.5,
         fontweight='bold', style='italic', color='black')
fig.text(670 / W, 1 - 458 / H, 'Underlying diseases', ha='center', va='center', fontsize=15.5,
         fontweight='bold', style='italic', color='black')

panel(fig, (102, 71, 440, 309), age1_x, age1_y, age1_fit, age1_up, age1_lo,
      (15.7, 90.7), (-0.83, 0.845), range(20, 91, 10), [-0.8, -0.6, -0.4, -0.2, 0, 0.2, 0.4, 0.6, 0.8],
      'Age', 'lower right', (0.926, 0.038))
panel(fig, (497, 70, 838, 310), [p[0] for p in hdl_pts], [p[1] for p in hdl_pts], hdl_fit, hdl_up, hdl_lo,
      (0.578, 2.465), (-0.715, 0.975), [0.6, 0.8, 1, 1.2, 1.4, 1.6, 1.8, 2, 2.2, 2.4],
      [-0.6, -0.4, -0.2, 0, 0.2, 0.4, 0.6, 0.8], 'HDL-C', 'lower right', (0.848, 0.033))
panel(fig, (895, 71, 1231, 310), [p[0] for p in tg_pts], [p[1] for p in tg_pts], tg_fit, tg_up, tg_lo,
      (0.08, 6.56), (-0.446, 0.494), [1, 2, 3, 4, 5, 6],
      [-0.4, -0.3, -0.2, -0.1, 0, 0.1, 0.2, 0.3, 0.4], 'TG', 'upper right', (0.893, 0.971))
panel(fig, (103, 483, 441, 720), [p[0] for p in age2_pts], [p[1] for p in age2_pts], age2_fit, age2_up,
      age2_lo, (15.4, 93.5), (-0.878, 0.974), range(20, 91, 10),
      [-0.8, -0.6, -0.4, -0.2, 0, 0.2, 0.4, 0.6, 0.8], 'Age', 'lower right', (0.976, 0.042))
panel(fig, (500, 482, 838, 720), [p[0] for p in bmi_pts], [p[1] for p in bmi_pts], bmi_fit, bmi_up, bmi_lo,
      (17.05, 34.45), (-0.615, 0.738), range(18, 35, 2),
      [-0.6, -0.4, -0.2, 0, 0.2, 0.4, 0.6], 'BMI', 'lower right', (0.941, 0.034))
panel(fig, (895, 483, 1235, 721), [p[0] for p in ratio_pts], [p[1] for p in ratio_pts], ratio_fit, ratio_up,
      ratio_lo, (1.015, 5.59), (-0.55, 0.615), [1.5, 2, 2.5, 3, 3.5, 4, 4.5, 5, 5.5],
      [-0.4, -0.2, 0, 0.2, 0.4, 0.6], 'LDL-C/HDL-C', 'upper right', (0.974, 0.979))

stats_table(fig, 105, 360, 433, 415, (184, 261, 352), age1_stats)
stats_table(fig, 497, 360, 836, 415, (577, 653, 745), hdl_stats)
stats_table(fig, 895, 360, 1225, 415, (976, 1051, 1142), tg_stats)
stats_table(fig, 105, 770, 432, 825, (184, 261, 352), age2_stats)
stats_table(fig, 500, 770, 837, 825, (580, 657, 748), bmi_stats)
stats_table(fig, 903, 770, 1232, 825, (983, 1059, 1151), ratio_stats)

fig.text(40 / W, 1 - 860 / H, 'FIGURE 4', ha='left', va='center', fontsize=10.5, color='#6b6b6b',
         family='Lato')
fig.text(40 / W, 1 - 883 / H,
         'Fitting effect curves show the association between SHAP values and contributing factors in IVDD.',
         ha='left', va='center', fontsize=16.2, color='#6b6b6b', family='Lato')

fig.savefig('out.png', dpi=100)
